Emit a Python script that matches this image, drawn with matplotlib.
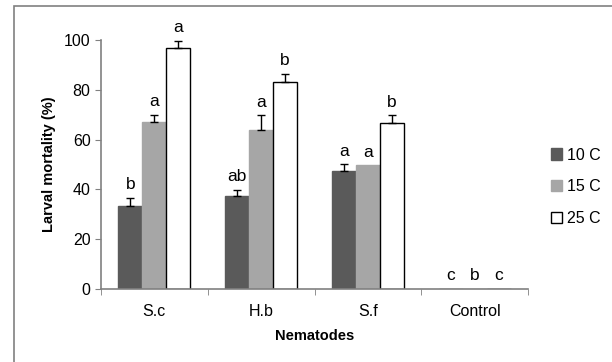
import matplotlib.pyplot as plt
import numpy as np
from matplotlib.patches import Rectangle

plt.rcParams['font.family'] = ['Liberation Sans', 'DejaVu Sans']
plt.rcParams['font.size'] = 11.5

# data
nematodes = ['S.c', 'H.b', 'S.f', 'Control']
temps = ['10 C', '15 C', '25 C']
mort_10 = [33.3, 37.3, 47.3, 0]
mort_15 = [67.0, 63.7, 49.7, 0]
mort_25 = [96.7, 83.3, 66.7, 0]
err_10 = [3.3, 2.5, 2.8, 0]
err_15 = [3.0, 6.0, 0, 0]
err_25 = [3.0, 3.2, 3.0, 0]
letters_10 = ['b', 'ab', 'a', 'c']
letters_15 = ['a', 'a', 'a', 'b']
letters_25 = ['a', 'b', 'b', 'c']

fig = plt.figure(figsize=(6.12, 3.62), dpi=100)
ax = fig.add_axes([0.165, 0.2017, 0.698, 0.6878])

# outer chart border
fig.patches.append(Rectangle((14 / 612, -0.05), 1.0, 1 - 6 / 362 + 0.05,
                             transform=fig.transFigure, fill=False,
                             edgecolor='#808080', linewidth=1.2))

x = np.arange(len(nematodes))
w = 0.225
series = [
    (mort_10, err_10, letters_10, '#5a5a5a', '#5a5a5a', -w),
    (mort_15, err_15, letters_15, '#a6a6a6', '#a6a6a6', 0),
    (mort_25, err_25, letters_25, 'white', 'black', w),
]
for (vals, errs, lets, fc, ec, off), lab in zip(series, temps):
    ax.bar(x + off, vals, width=w, color=fc, edgecolor=ec, linewidth=1.0,
           label=lab, zorder=2)
    for xi, v, e, l in zip(x + off, vals, errs, lets):
        if e > 0:
            ax.errorbar(xi, v, yerr=[[0], [e]], fmt='none', ecolor='black',
                        elinewidth=1, capsize=3, capthick=1, zorder=3)
        ax.annotate(l, (xi, v + e), xytext=(0, 4), textcoords='offset points',
                    ha='center', va='bottom', fontsize=12.5)

ax.set_xlim(-0.5, 3.5)
ax.set_ylim(0, 100)
ax.set_yticks([0, 20, 40, 60, 80, 100])
ax.set_xticks(x)
ax.set_xticklabels(nematodes)
ax.set_xticks([-0.5, 0.5, 1.5, 2.5, 3.5], minor=True)
ax.tick_params(axis='x', which='major', length=0, pad=11)
ax.tick_params(axis='x', which='minor', length=4, color='#808080')
ax.tick_params(axis='y', length=4, color='#808080')
for s in ['top', 'right']:
    ax.spines[s].set_visible(False)
for s in ['left', 'bottom']:
    ax.spines[s].set_color('#808080')
    ax.spines[s].set_linewidth(1.2)

ax.set_ylabel('Larval mortality (%)', fontweight='bold', fontsize=10.5,
              labelpad=6)
ax.set_xlabel('Nematodes', fontweight='bold', fontsize=10.5, labelpad=7)

ax.legend(loc='center left', bbox_to_anchor=(1.02, 0.41), frameon=False,
          handlelength=0.7, handleheight=0.7, handletextpad=0.3,
          labelspacing=1.05, fontsize=11.5)

fig.savefig('out.png', dpi=100)
